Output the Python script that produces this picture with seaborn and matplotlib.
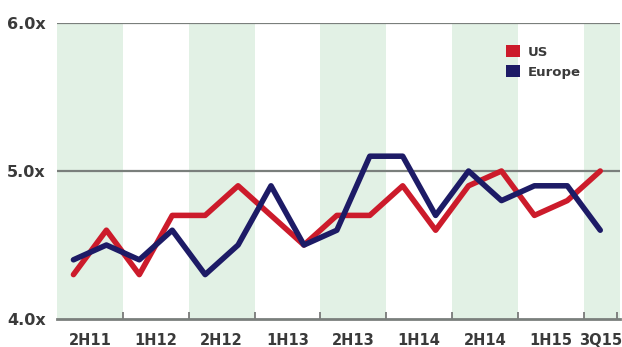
import matplotlib
matplotlib.use("Agg")
import matplotlib.pyplot as plt
from matplotlib.patches import Patch
import numpy as np
import pandas as pd
import seaborn as sns

# Quarterly EV/EBITDA-style multiples, 3Q11 through 3Q15
quarters = ["3Q11", "4Q11", "1Q12", "2Q12", "3Q12", "4Q12", "1Q13", "2Q13",
            "3Q13", "4Q13", "1Q14", "2Q14", "3Q14", "4Q14", "1Q15", "2Q15", "3Q15"]
us_values = [4.3, 4.6, 4.3, 4.7, 4.7, 4.9, 4.7, 4.5,
             4.7, 4.7, 4.9, 4.6, 4.9, 5.0, 4.7, 4.8, 5.0]
europe_values = [4.4, 4.5, 4.4, 4.6, 4.3, 4.5, 4.9, 4.5,
                 4.6, 5.1, 5.1, 4.7, 5.0, 4.8, 4.9, 4.9, 4.6]

period_labels = ["2H11", "1H12", "2H12", "1H13", "2H13", "1H14", "2H14", "1H15", "3Q15"]
series_names = ["US", "Europe"]
series_colors = ["#cc1b2b", "#1d1b66"]
y_ticks = [4.0, 5.0, 6.0]

idx = np.arange(len(quarters))
df = pd.DataFrame({
    "q": np.concatenate([idx, idx]),
    "value": us_values + europe_values,
    "region": [series_names[0]] * len(idx) + [series_names[1]] * len(idx),
})

sns.set_style("white")
plt.rcParams["font.family"] = ["DejaVu Sans"]
text_color = "#3a3a3a"

fig = plt.figure(figsize=(6.22, 3.47), dpi=100)
ax = fig.add_axes([57 / 622, 28 / 347, 563 / 622, 296 / 347])

x_left, x_right = -0.5, len(quarters) - 0.4

# alternating half-year shading
band_color = "#e2f1e5"
edges = list(np.arange(-0.5, len(quarters), 2)) + [x_right]
for k in range(len(edges) - 1):
    if k % 2 == 0:
        ax.axvspan(edges[k], edges[k + 1], color=band_color, lw=0, zorder=0)

for y in y_ticks[1:]:
    ax.axhline(y, color="#7a7f7c", lw=1.6, zorder=1)

sns.lineplot(data=df, x="q", y="value", hue="region",
             palette=dict(zip(series_names, series_colors)),
             linewidth=4.0, ax=ax, legend=False, zorder=3)

ax.set_xlim(x_left, x_right)
ax.set_ylim(4.0, 6.0)

label_pos = [0.5 + 2 * k for k in range(len(period_labels) - 1)] + [len(quarters) - 1]
ax.set_xticks(label_pos)
ax.set_xticklabels(period_labels, fontsize=10.5, fontweight="bold", color=text_color)
ax.set_xticks(np.arange(0.5, len(quarters), 1.0), minor=True)
ax.tick_params(axis="x", which="major", length=0, pad=10)
ax.tick_params(axis="x", which="minor", direction="in", length=5, width=1.2,
               color="#6f6f6f", bottom=True)

ax.set_yticks(y_ticks)
ax.set_yticklabels([f"{v:.1f}x" for v in y_ticks], fontsize=11.5,
                   fontweight="bold", color=text_color)
ax.tick_params(axis="y", length=0, pad=8)

ax.set_xlabel("")
ax.set_ylabel("")
for side in ["left", "right", "top"]:
    ax.spines[side].set_visible(False)
ax.spines["bottom"].set_color("#7a7f7c")
ax.spines["bottom"].set_linewidth(2.0)

handles = [Patch(facecolor=c, edgecolor="none") for c in series_colors]
leg = ax.legend(handles, series_names, loc="upper left",
                bbox_to_anchor=(0.777, 0.965), frameon=False,
                handlelength=1.0, handleheight=1.0, handletextpad=0.6,
                labelspacing=0.5, prop={"weight": "bold", "size": 9.5})
for t in leg.get_texts():
    t.set_color(text_color)

fig.savefig("out.png", dpi=100)
